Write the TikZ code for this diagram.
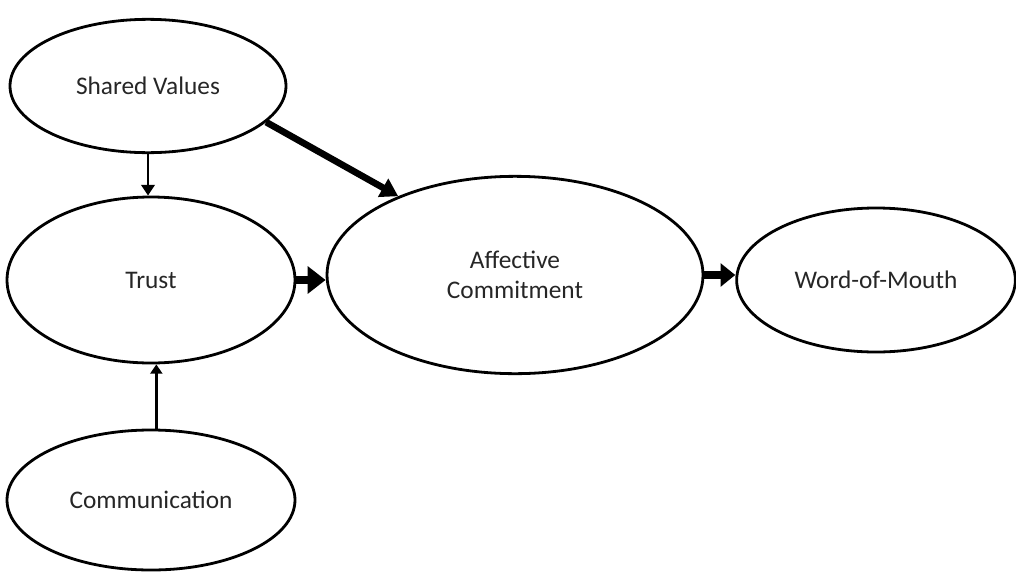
\documentclass[tikz,border=0pt]{standalone}
\usepackage{fontspec}
\setmainfont{Carlito}
\usetikzlibrary{arrows.meta,shapes.geometric}

\begin{document}
\begin{tikzpicture}[x=0.75pt,y=-0.75pt]
                    \tikzstyle{every node}+=[inner sep=0pt]
                    \tikzstyle{construct}=[draw, ellipse, line width=2.1pt, text=black!85, align=center, font=\fontsize{19}{22.5}\selectfont]
                    \useasboundingbox (0,0) rectangle (1016,571);
                    \node [construct, minimum width=207pt, minimum height=100pt] (sv) at (148,86) {Shared Values};
                    \node [construct, minimum width=216pt, minimum height=124.5pt] (trust) at (151,280) {Trust};
                    \node [construct, minimum width=216pt, minimum height=105pt] (comm) at (151,500) {Communication};
                    \node [construct, minimum width=282pt, minimum height=148pt] (ac) at (515,275) {Affective\\Commitment};
                    \node [construct, minimum width=209pt, minimum height=108pt] (wom) at (876,280) {Word-of-Mouth};
                    \draw [line width=1.9pt, -{Triangle[length=8pt,width=10pt]}] (sv.south) -- (sv.south |- trust.north);
                    \draw [line width=2.4pt, -{Triangle[length=7pt,width=9pt]}] ([xshift=4pt]comm.north) -- ([xshift=4pt]trust.south);
                    \draw [line width=5pt, -{Triangle[length=13pt,width=15pt]}] (sv.-17) -- (ac.146);
                    \draw [line width=6pt, -{Triangle[length=13.5pt,width=20pt]}] (trust.east) -- (trust.east -| ac.west);
                    \draw [line width=5.5pt, -{Triangle[length=11pt,width=17pt]}] (ac.east) -- (ac.east -| wom.west);
                \end{tikzpicture}
\end{document}
